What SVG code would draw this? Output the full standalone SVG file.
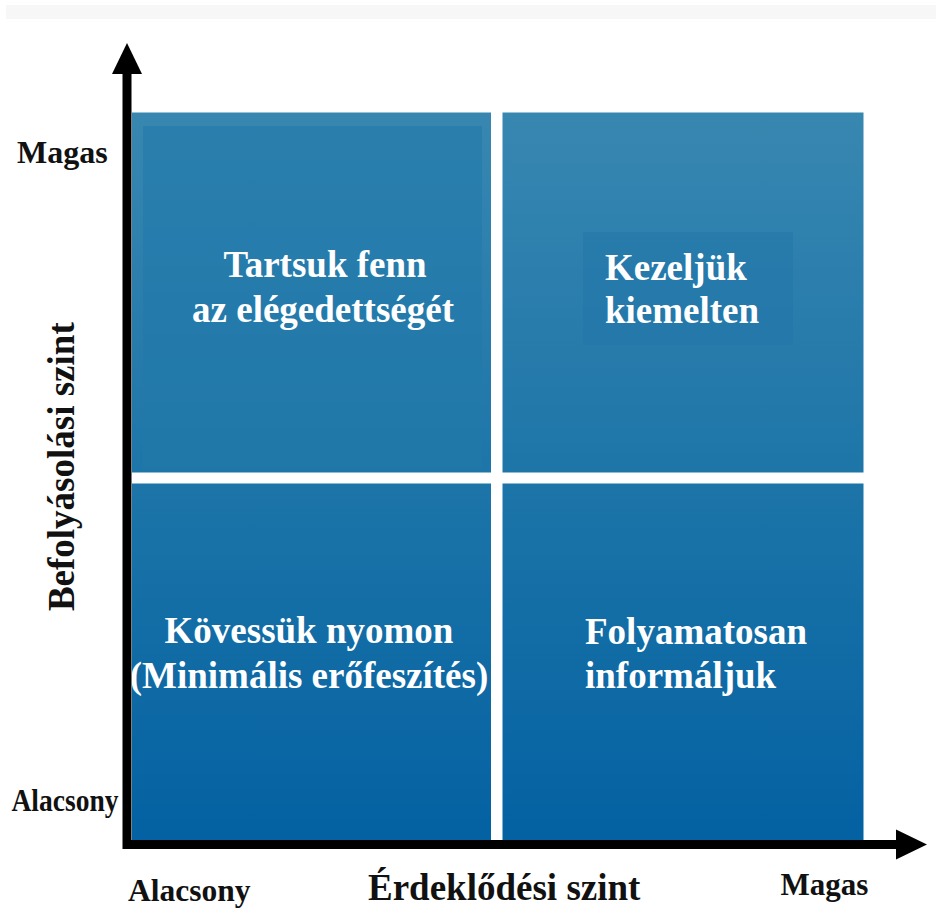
<svg xmlns="http://www.w3.org/2000/svg" width="936" height="919" viewBox="0 0 936 919">
  <defs>
    <linearGradient id="qgrad" gradientUnits="userSpaceOnUse" x1="0" y1="112" x2="0" y2="840">
      <stop offset="0" stop-color="#3887b1"/>
      <stop offset="0.5" stop-color="#1d75a8"/>
      <stop offset="1" stop-color="#0461a2"/>
    </linearGradient>
    <marker id="arrow" markerUnits="userSpaceOnUse" markerWidth="32" markerHeight="32" refX="0" refY="0" viewBox="0 -16 32 32" orient="auto-start-reverse" overflow="visible">
      <path d="M0,-15 L31,0 L0,15 Z" fill="#000"/>
    </marker>
  </defs>
  <style>
    .quad { fill: url(#qgrad); }
    .qt { font-family: "Liberation Serif", "Times New Roman", serif; font-weight: bold; font-size: 37px; fill: #ffffff; }
    .ax { font-family: "Liberation Serif", "Times New Roman", serif; font-weight: bold; fill: #111111; }
  </style>

  <rect x="6" y="5" width="930" height="14" fill="#f7f7f7"/>

  <g id="q-top-left">
    <rect class="quad" x="132" y="112.5" width="359" height="360"/>
    <rect x="143" y="126" width="339" height="342" fill="#2279aa" opacity="0.6"/>
    <text class="qt" x="325" y="277" text-anchor="middle">Tartsuk fenn</text>
    <text class="qt" x="323" y="322" text-anchor="middle">az elégedettségét</text>
  </g>

  <g id="q-top-right">
    <rect class="quad" x="502.5" y="112.5" width="361" height="360"/>
    <rect x="583" y="232" width="210" height="113" fill="#2277a9" opacity="0.55"/>
    <text class="qt" x="605" y="280">Kezeljük</text>
    <text class="qt" x="605" y="323">kiemelten</text>
  </g>

  <g id="q-bottom-left">
    <rect class="quad" x="132" y="483.5" width="359" height="357"/>
    <text class="qt" x="309" y="643" text-anchor="middle">Kövessük nyomon</text>
    <text class="qt" x="309" y="688" text-anchor="middle">(Minimális erőfeszítés)</text>
  </g>

  <g id="q-bottom-right">
    <rect class="quad" x="502.5" y="483.5" width="361" height="357"/>
    <text class="qt" x="585" y="644">Folyamatosan</text>
    <text class="qt" x="585" y="688">informáljuk</text>
  </g>

  <g id="connectors">
    <path d="M127,74 L127,844.5 L896,844.5" fill="none" stroke="#000" stroke-width="9" stroke-linejoin="miter" marker-start="url(#arrow)" marker-end="url(#arrow)"/>
  </g>

  <g id="axis-labels">
    <text class="ax" x="17" y="163" font-size="32">Magas</text>
    <text class="ax" x="11.5" y="811" font-size="31" textLength="107" lengthAdjust="spacingAndGlyphs">Alacsony</text>
    <text class="ax" x="128" y="901" font-size="31.5">Alacsony</text>
    <text class="ax" x="368" y="900" font-size="37">Érdeklődési szint</text>
    <text class="ax" x="780.5" y="895" font-size="31">Magas</text>
    <text class="ax" font-size="37" text-anchor="middle" transform="translate(74,466.7) rotate(-90)">Befolyásolási szint</text>
  </g>
</svg>
